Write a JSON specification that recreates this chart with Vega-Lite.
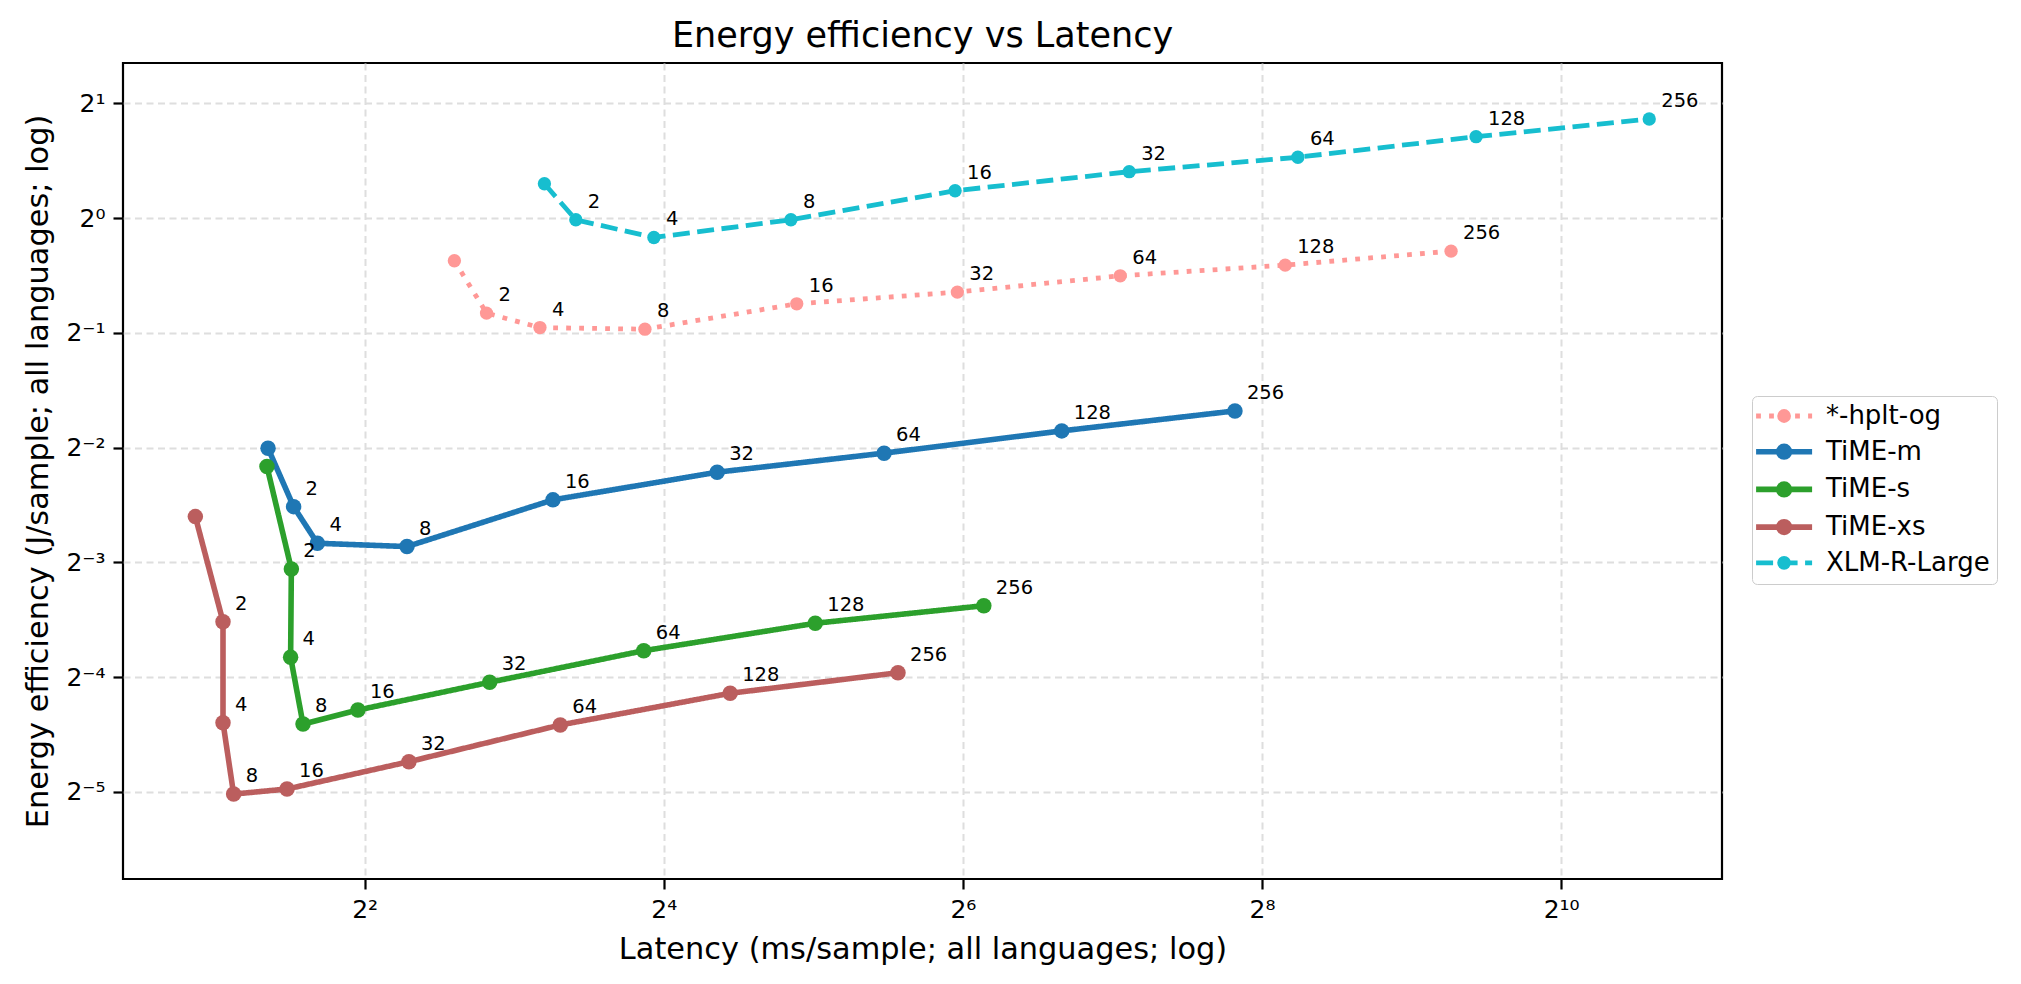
{
  "$schema": "https://vega.github.io/schema/vega-lite/v6.json",
  "width": 1599,
  "height": 816,
  "autosize": {"type": "none"},
  "padding": {"left": 123, "top": 63, "right": 299, "bottom": 105},
  "background": "white",
  "title": {
    "text": "Energy efficiency vs Latency",
    "font": "DejaVu Sans",
    "fontSize": 35,
    "fontWeight": "normal",
    "color": "black",
    "anchor": "middle",
    "offset": 9
  },
  "data": {
    "values": [
      {"series": "XLM-R-Large", "batch": 1, "latency": 9.202, "energy": 1.2303},
      {"series": "XLM-R-Large", "batch": 2, "latency": 10.644, "energy": 0.98965},
      {"series": "XLM-R-Large", "batch": 4, "latency": 15.284, "energy": 0.88947},
      {"series": "XLM-R-Large", "batch": 8, "latency": 28.84, "energy": 0.98965},
      {"series": "XLM-R-Large", "batch": 16, "latency": 61.73, "energy": 1.17936},
      {"series": "XLM-R-Large", "batch": 32, "latency": 138.33, "energy": 1.32318},
      {"series": "XLM-R-Large", "batch": 64, "latency": 302.3, "energy": 1.44393},
      {"series": "XLM-R-Large", "batch": 128, "latency": 690.3, "energy": 1.63467},
      {"series": "XLM-R-Large", "batch": 256, "latency": 1540.3, "energy": 1.81879},
      {"series": "*-hplt-og", "batch": 1, "latency": 6.063, "energy": 0.7727},
      {"series": "*-hplt-og", "batch": 2, "latency": 7.037, "energy": 0.5633},
      {"series": "*-hplt-og", "batch": 4, "latency": 9.013, "energy": 0.5162},
      {"series": "*-hplt-og", "batch": 8, "latency": 14.662, "energy": 0.5112},
      {"series": "*-hplt-og", "batch": 16, "latency": 29.63, "energy": 0.5958},
      {"series": "*-hplt-og", "batch": 32, "latency": 62.38, "energy": 0.6395},
      {"series": "*-hplt-og", "batch": 64, "latency": 132.7, "energy": 0.7056},
      {"series": "*-hplt-og", "batch": 128, "latency": 285.03, "energy": 0.7526},
      {"series": "*-hplt-og", "batch": 256, "latency": 614.8, "energy": 0.819},
      {"series": "TiME-m", "batch": 1, "latency": 2.5562, "energy": 0.24914},
      {"series": "TiME-m", "batch": 2, "latency": 2.8779, "energy": 0.17507},
      {"series": "TiME-m", "batch": 4, "latency": 3.2132, "energy": 0.14034},
      {"series": "TiME-m", "batch": 8, "latency": 4.867, "energy": 0.13755},
      {"series": "TiME-m", "batch": 16, "latency": 9.5732, "energy": 0.18238},
      {"series": "TiME-m", "batch": 32, "latency": 20.492, "energy": 0.21554},
      {"series": "TiME-m", "batch": 64, "latency": 44.416, "energy": 0.24182},
      {"series": "TiME-m", "batch": 128, "latency": 101.19, "energy": 0.27662},
      {"series": "TiME-m", "batch": 256, "latency": 225.82, "energy": 0.31208},
      {"series": "TiME-s", "batch": 1, "latency": 2.5438, "energy": 0.22298},
      {"series": "TiME-s", "batch": 2, "latency": 2.8481, "energy": 0.12016},
      {"series": "TiME-s", "batch": 4, "latency": 2.8383, "energy": 0.070512},
      {"series": "TiME-s", "batch": 8, "latency": 3.0063, "energy": 0.047104},
      {"series": "TiME-s", "batch": 16, "latency": 3.8771, "energy": 0.051261},
      {"series": "TiME-s", "batch": 32, "latency": 7.1404, "energy": 0.060623},
      {"series": "TiME-s", "batch": 64, "latency": 14.581, "energy": 0.073353},
      {"series": "TiME-s", "batch": 128, "latency": 32.29, "energy": 0.086569},
      {"series": "TiME-s", "batch": 256, "latency": 70.52, "energy": 0.096255},
      {"series": "TiME-xs", "batch": 1, "latency": 1.8251, "energy": 0.16483},
      {"series": "TiME-xs", "batch": 2, "latency": 2.0748, "energy": 0.087414},
      {"series": "TiME-xs", "batch": 4, "latency": 2.0748, "energy": 0.047498},
      {"series": "TiME-xs", "batch": 8, "latency": 2.1795, "energy": 0.030862},
      {"series": "TiME-xs", "batch": 16, "latency": 2.7914, "energy": 0.031818},
      {"series": "TiME-xs", "batch": 32, "latency": 4.9109, "energy": 0.037524},
      {"series": "TiME-xs", "batch": 64, "latency": 9.9039, "energy": 0.046844},
      {"series": "TiME-xs", "batch": 128, "latency": 21.766, "energy": 0.05672},
      {"series": "TiME-xs", "batch": 256, "latency": 47.373, "energy": 0.064213}
    ]
  },
  "encoding": {
    "x": {
      "field": "latency",
      "type": "quantitative",
      "title": "Latency (ms/sample; all languages; log)",
      "scale": {"type": "log", "base": 2, "domain": [1.30524, 2158.1], "nice": false, "zero": false},
      "axis": {
        "values": [4, 16, 64, 256, 1024],
        "labelExpr": "datum.value < 5 ? '2²' : datum.value < 20 ? '2⁴' : datum.value < 70 ? '2⁶' : datum.value < 300 ? '2⁸' : '2¹⁰'",
        "titlePadding": 12
      }
    },
    "y": {
      "field": "energy",
      "type": "quantitative",
      "title": "Energy efficiency (J/sample; all languages; log)",
      "scale": {"type": "log", "base": 2, "domain": [0.018479, 2.5508], "nice": false, "zero": false},
      "axis": {
        "values": [0.03125, 0.0625, 0.125, 0.25, 0.5, 1, 2],
        "labelExpr": "datum.value > 1.5 ? '2¹' : datum.value > 0.7 ? '2⁰' : datum.value > 0.4 ? '2⁻¹' : datum.value > 0.2 ? '2⁻²' : datum.value > 0.1 ? '2⁻³' : datum.value > 0.05 ? '2⁻⁴' : '2⁻⁵'",
        "titlePadding": 12
      }
    }
  },
  "layer": [
    {
      "mark": {"type": "line"},
      "encoding": {
        "color": {
          "field": "series",
          "type": "nominal",
          "scale": {
            "domain": ["*-hplt-og", "TiME-m", "TiME-s", "TiME-xs", "XLM-R-Large"],
            "range": ["#ff9896", "#1f77b4", "#2ca02c", "#bb5e5e", "#17becf"]
          },
          "legend": {
            "title": null,
            "orient": "none",
            "legendX": 1629,
            "legendY": 333,
            "symbolType": "M-1.136,0L2.864,0M1.244,0A0.38,0.38,0,1,1,0.484,0A0.38,0.38,0,1,1,1.244,0Z",
            "symbolSize": 784,
            "symbolStrokeWidth": 5,
            "labelFont": "DejaVu Sans",
            "labelFontSize": 26,
            "labelColor": "black",
            "labelLimit": 400,
            "labelOffset": 41,
            "rowPadding": 3.7,
            "padding": 7,
            "cornerRadius": 5,
            "strokeColor": "#cccccc",
            "fillColor": "white",
            "encode": {
              "symbols": {
                "update": {
                  "shape": {"signal": "datum.value === '*-hplt-og' ? 'M-1.136,0L-0.793,0M-0.207,0L0.135,0M0.721,0L1.064,0M1.65,0L1.993,0M2.578,0L2.864,0M1.184,0A0.32,0.32,0,1,1,0.544,0A0.32,0.32,0,1,1,1.184,0Z' : datum.value === 'XLM-R-Large' ? 'M-1.136,0L0.078,0M0.614,0L1.828,0M2.364,0L2.864,0M1.184,0A0.32,0.32,0,1,1,0.544,0A0.32,0.32,0,1,1,1.184,0Z' : 'M-1.136,0L2.864,0M1.244,0A0.38,0.38,0,1,1,0.484,0A0.38,0.38,0,1,1,1.244,0Z'"},
                  "fill": {"scale": "color", "field": "value"},
                  "stroke": {"scale": "color", "field": "value"},
                  "strokeWidth": {"signal": "datum.value === '*-hplt-og' || datum.value === 'XLM-R-Large' ? 4.8 : 5.6"},
                  "strokeCap": {"value": "butt"},
                  "opacity": {"value": 1}
                }
              }
            }
          }
        },
        "order": {"field": "batch", "type": "quantitative"},
        "strokeWidth": {
          "condition": {"test": "datum.series === '*-hplt-og' || datum.series === 'XLM-R-Large'", "value": 4.8},
          "value": 5.6
        },
        "strokeDash": {
          "condition": [
            {"test": "datum.series === '*-hplt-og'", "value": [4.8, 8.2]},
            {"test": "datum.series === 'XLM-R-Large'", "value": [17, 7.5]}
          ],
          "value": [1, 0]
        }
      }
    },
    {
      "mark": {"type": "point", "filled": true, "shape": "circle", "opacity": 1},
      "encoding": {
        "color": {"field": "series", "type": "nominal"},
        "size": {
          "condition": {"test": "datum.series === '*-hplt-og' || datum.series === 'XLM-R-Large'", "value": 178},
          "value": 240
        }
      }
    },
    {
      "transform": [{"filter": "datum.batch > 1"}],
      "mark": {"type": "text", "align": "left", "baseline": "alphabetic", "dx": 12, "dy": -12, "font": "DejaVu Sans", "fontSize": 19.5, "color": "black"},
      "encoding": {
        "text": {"field": "batch", "type": "nominal"}
      }
    }
  ],
  "config": {
    "view": {"stroke": "black", "strokeWidth": 2.2},
    "axis": {
      "labelFont": "DejaVu Sans",
      "labelFontSize": 25,
      "labelColor": "black",
      "titleFont": "DejaVu Sans",
      "titleFontSize": 30.4,
      "titleFontWeight": "normal",
      "titleColor": "black",
      "tickColor": "black",
      "tickWidth": 2.2,
      "tickSize": 10,
      "labelPadding": 8,
      "domain": false,
      "grid": true,
      "gridColor": "#dedede",
      "gridDash": [7, 4.5],
      "gridWidth": 2
    }
  }
}
